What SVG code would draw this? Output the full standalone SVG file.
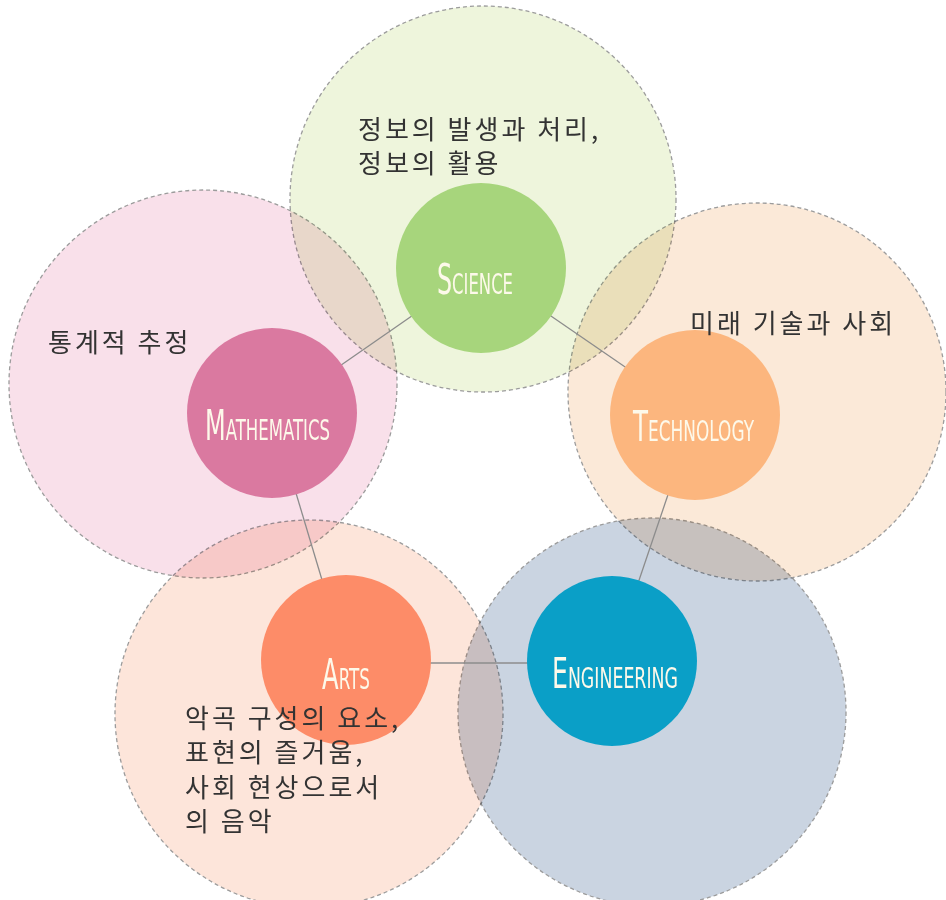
<svg xmlns="http://www.w3.org/2000/svg" width="946" height="900" viewBox="0 0 946 900">
<style>
.big{stroke:#9c9c9c;stroke-width:1.3;stroke-dasharray:4 3;mix-blend-mode:multiply}
.conn{stroke:#8c8c8c;stroke-width:1.3;fill:none}
.lbl{font-family:"DejaVu Sans","Liberation Sans",sans-serif;fill:#fdf9ea;font-weight:normal;font-size:42px;font-variant:small-caps}
.kr{font-family:"Noto Sans CJK KR","Noto Sans",sans-serif;font-size:26px;fill:#333;letter-spacing:3px}
</style>
<rect width="946" height="900" fill="#ffffff"/>
<g id="zones">
<circle id="zone-science" class="big" cx="483" cy="199" r="193" fill="#eef5dc"/>
<circle id="zone-math" class="big" cx="203" cy="384" r="194" fill="#f9e0ea"/>
<circle id="zone-tech" class="big" cx="757" cy="392" r="189" fill="#fbe9d8"/>
<circle id="zone-arts" class="big" cx="309" cy="714" r="194" fill="#fde5da"/>
<circle id="zone-eng" class="big" cx="652" cy="712" r="194" fill="#cad4e1"/>
</g>
<g id="connectors">
<line class="conn" x1="481" y1="268" x2="272" y2="413"/>
<line class="conn" x1="481" y1="268" x2="695" y2="415"/>
<line class="conn" x1="272" y1="413" x2="346" y2="660"/>
<line class="conn" x1="695" y1="415" x2="612" y2="660"/>
<line class="conn" x1="346" y1="663" x2="612" y2="663"/>
</g>
<g id="science">
<circle cx="481" cy="268" r="85" fill="#a7d57c"/>
<text class="lbl" x="437" y="294" textLength="76" lengthAdjust="spacingAndGlyphs">Science</text>
</g>
<g id="mathematics">
<circle cx="272" cy="413" r="85" fill="#da79a0"/>
<text class="lbl" x="205" y="440" textLength="125" lengthAdjust="spacingAndGlyphs">Mathematics</text>
</g>
<g id="technology">
<circle cx="695" cy="415" r="85" fill="#fcb67e"/>
<text class="lbl" x="633" y="441" textLength="121" lengthAdjust="spacingAndGlyphs">Technology</text>
</g>
<g id="engineering">
<circle cx="612" cy="661" r="85" fill="#0a9fc7"/>
<text class="lbl" x="552" y="688" textLength="126" lengthAdjust="spacingAndGlyphs">Engineering</text>
</g>
<g id="arts">
<circle cx="346" cy="660" r="85" fill="#fd8c68"/>
<text class="lbl" x="322" y="689" textLength="48" lengthAdjust="spacingAndGlyphs">Arts</text>
</g>
<g id="texts">
<text class="kr" x="358" y="139">정보의 발생과 처리,</text>
<text class="kr" x="358" y="173">정보의 활용</text>
<text class="kr" x="48" y="352">통계적 추정</text>
<text class="kr" x="690" y="333">미래 기술과 사회</text>
<text class="kr" x="185" y="728">악곡 구성의 요소,</text>
<text class="kr" x="185" y="762">표현의 즐거움,</text>
<text class="kr" x="185" y="797">사회 현상으로서</text>
<text class="kr" x="185" y="831">의 음악</text>
</g>
</svg>
